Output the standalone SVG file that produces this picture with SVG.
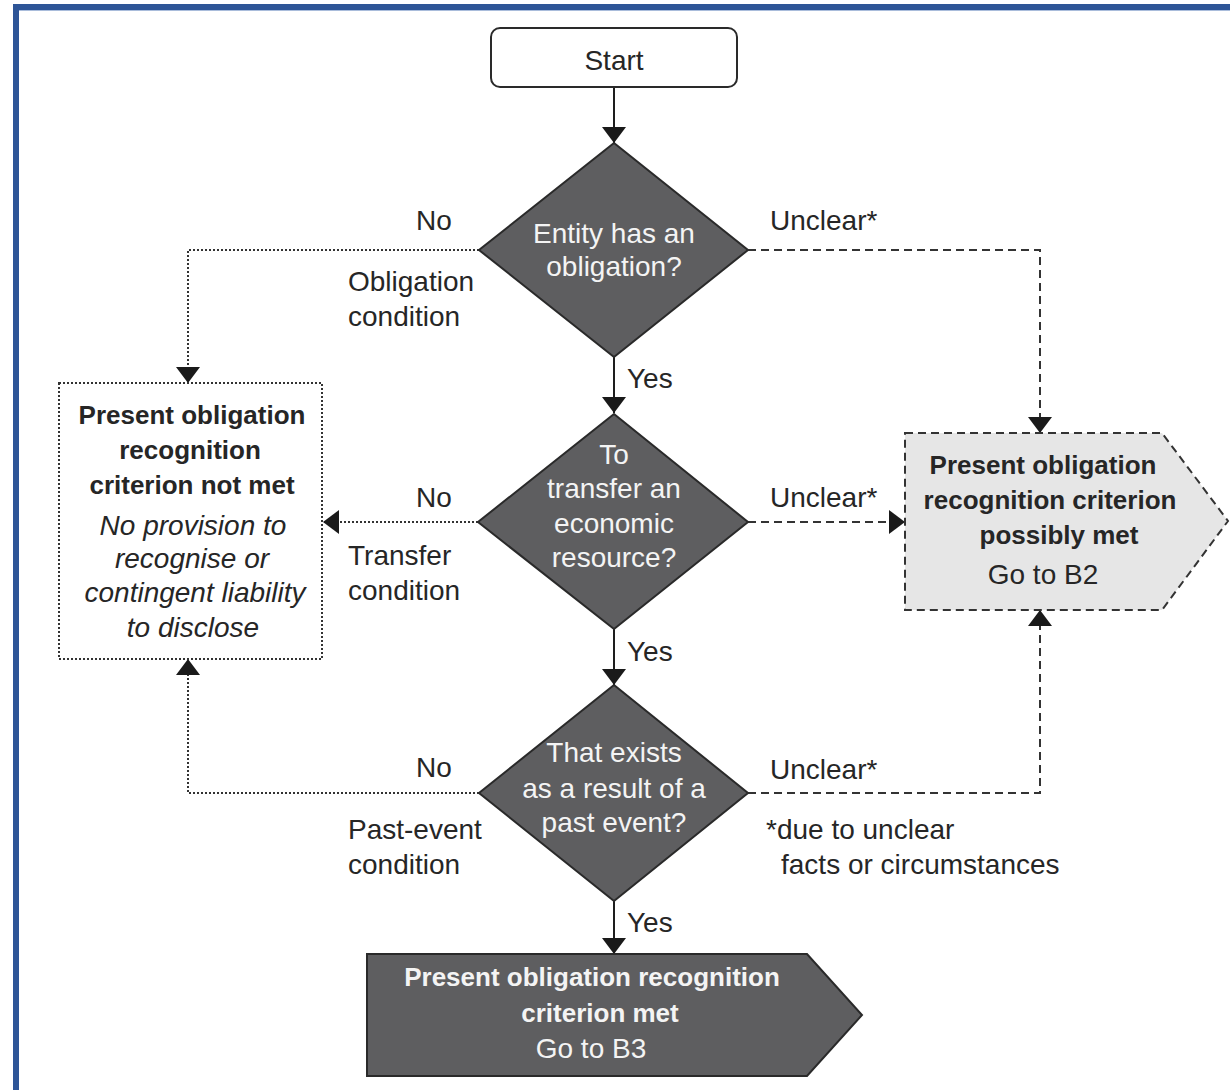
<svg xmlns="http://www.w3.org/2000/svg" width="1230" height="1090" viewBox="0 0 1230 1090">
  <style>
    .t { font-family: "Liberation Sans", Arial, sans-serif; font-size: 28px; fill: #262626; }
    .w { fill: #F4F4F4; }
    .b { font-weight: bold; font-size: 26px; }
    .i { font-style: italic; }
    .mid { text-anchor: middle; }
    .solid { fill: none; stroke: #1E1E1E; stroke-width: 2; }
    .dot { fill: none; stroke: #333; stroke-width: 2; stroke-dasharray: 2 2; }
    .dash { fill: none; stroke: #333; stroke-width: 2; stroke-dasharray: 8 5; }
    .diamond { fill: #5E5E60; stroke: #2A2A2A; stroke-width: 2; }
  </style>
  <defs>
    <marker id="arrow" markerUnits="userSpaceOnUse" markerWidth="16" markerHeight="24" viewBox="0 0 16 24" refX="16" refY="12" orient="auto">
      <path d="M0,0 L16,12 L0,24 z" fill="#1A1A1A"/>
    </marker>
  </defs>

  <rect width="1230" height="1090" fill="#FFFFFF"/>

  <!-- frame -->
  <g id="frame">
    <rect x="13" y="4" width="1217" height="6" fill="#2E5597"/>
    <rect x="13" y="10" width="1217" height="1" fill="#A9BCDB"/>
    <rect x="13" y="4" width="6" height="1086" fill="#2E5597"/>
  </g>

  <!-- connectors -->
  <g id="connectors">
    <path class="solid" d="M614,87 V143" marker-end="url(#arrow)"/>
    <path class="solid" d="M614,357 V413" marker-end="url(#arrow)"/>
    <path class="solid" d="M614,629 V685" marker-end="url(#arrow)"/>
    <path class="solid" d="M614,901 V954" marker-end="url(#arrow)"/>

    <path class="dot" d="M479,250 H188 V383" marker-end="url(#arrow)"/>
    <path class="dot" d="M478,522 H323" marker-end="url(#arrow)"/>
    <path class="dot" d="M479,793 H188 V659" marker-end="url(#arrow)"/>

    <path class="dash" d="M748,250 H1040 V433" marker-end="url(#arrow)"/>
    <path class="dash" d="M748,522 H905" marker-end="url(#arrow)"/>
    <path class="dash" d="M748,793 H1040 V610" marker-end="url(#arrow)"/>
  </g>

  <g id="start">
    <rect x="491" y="28" width="246" height="59" rx="9" fill="#FFFFFF" stroke="#2A2A2A" stroke-width="2"/>
    <text class="t mid" x="614" y="70">Start</text>
  </g>

  <g id="q-obligation">
    <polygon class="diamond" points="614,143 748,250 614,357 479,250"/>
    <text class="t w mid" x="614" y="243">Entity has an</text>
    <text class="t w mid" x="614" y="276">obligation?</text>
  </g>

  <g id="q-transfer">
    <polygon class="diamond" points="614,414 748,522 614,629 478,522"/>
    <text class="t w mid" x="614" y="464">To</text>
    <text class="t w mid" x="614" y="498">transfer an</text>
    <text class="t w mid" x="614" y="533">economic</text>
    <text class="t w mid" x="614" y="567">resource?</text>
  </g>

  <g id="q-past-event">
    <polygon class="diamond" points="614,685 748,793 614,901 479,793"/>
    <text class="t w mid" x="614" y="762">That exists</text>
    <text class="t w mid" x="614" y="798">as a result of a</text>
    <text class="t w mid" x="614" y="832">past event?</text>
  </g>

  <g id="not-met">
    <rect class="dot" x="59" y="383" width="263" height="276"/>
    <text class="t b mid" x="192" y="424">Present obligation</text>
    <text class="t b mid" x="190" y="459">recognition</text>
    <text class="t b mid" x="192" y="494">criterion not met</text>
    <text class="t i mid" x="193" y="535">No provision to</text>
    <text class="t i mid" x="192" y="568">recognise or</text>
    <text class="t i mid" x="195" y="602">contingent liability</text>
    <text class="t i mid" x="193" y="637">to disclose</text>
  </g>

  <g id="possibly-met">
    <polygon class="dash" fill="#E6E6E6" style="fill:#E6E6E6" points="905,433 1162,433 1228,521 1162,610 905,610"/>
    <text class="t b mid" x="1043" y="474">Present obligation</text>
    <text class="t b mid" x="1050" y="509">recognition criterion</text>
    <text class="t b mid" x="1059" y="544">possibly met</text>
    <text class="t mid" x="1043" y="584">Go to B2</text>
  </g>

  <g id="met">
    <polygon points="367,954 807,954 862,1015 807,1076 367,1076" fill="#5E5E60" stroke="#2A2A2A" stroke-width="2"/>
    <text class="t b w mid" x="592" y="986">Present obligation recognition</text>
    <text class="t b w mid" x="600" y="1022">criterion met</text>
    <text class="t w mid" x="591" y="1058">Go to B3</text>
  </g>

  <!-- branch labels -->
  <g id="labels">
    <text class="t mid" x="434" y="230">No</text>
    <text class="t" x="348" y="291">Obligation</text>
    <text class="t" x="348" y="326">condition</text>
    <text class="t" x="770" y="230">Unclear*</text>
    <text class="t" x="627" y="388">Yes</text>

    <text class="t mid" x="434" y="507">No</text>
    <text class="t" x="348" y="565">Transfer</text>
    <text class="t" x="348" y="600">condition</text>
    <text class="t" x="770" y="507">Unclear*</text>
    <text class="t" x="627" y="661">Yes</text>

    <text class="t mid" x="434" y="777">No</text>
    <text class="t" x="348" y="839">Past-event</text>
    <text class="t" x="348" y="874">condition</text>
    <text class="t" x="770" y="779">Unclear*</text>
    <text class="t" x="627" y="932">Yes</text>

    <text class="t" x="766" y="839">*due to unclear</text>
    <text class="t" x="781" y="874">facts or circumstances</text>
  </g>
</svg>
